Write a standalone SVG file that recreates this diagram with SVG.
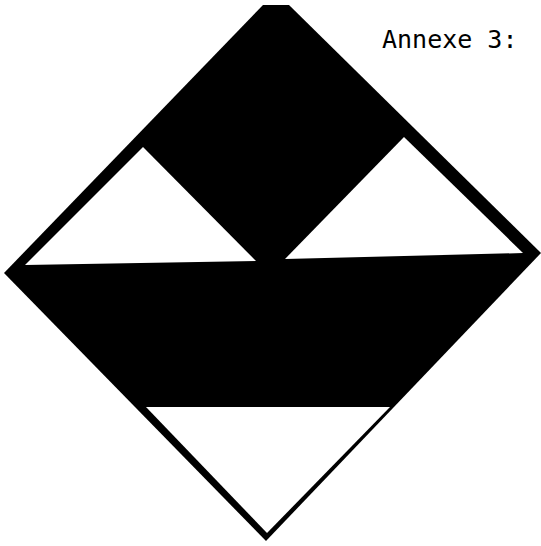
<svg xmlns="http://www.w3.org/2000/svg" width="541" height="546" viewBox="0 0 541 546">
<style>
.blk{fill:#000}
.wht{fill:#fff}
.lbl{font-family:"DejaVu Sans Mono","Liberation Mono",monospace;font-size:25px;fill:#000}
</style>
<rect width="541" height="546" fill="#fff"/>
<g id="diamond">
<polygon class="blk" points="263,5 289,5 541,253 266,541 4,273"/>
<polygon class="wht" points="25,265 143,147 256,261"/>
<polygon class="wht" points="285,259 404,137 523,253"/>
<polygon class="wht" points="146,407 390,407 267,533"/>
</g>
<g id="label">
<text class="lbl" x="382" y="48">Annexe 3:</text>
</g>
</svg>
